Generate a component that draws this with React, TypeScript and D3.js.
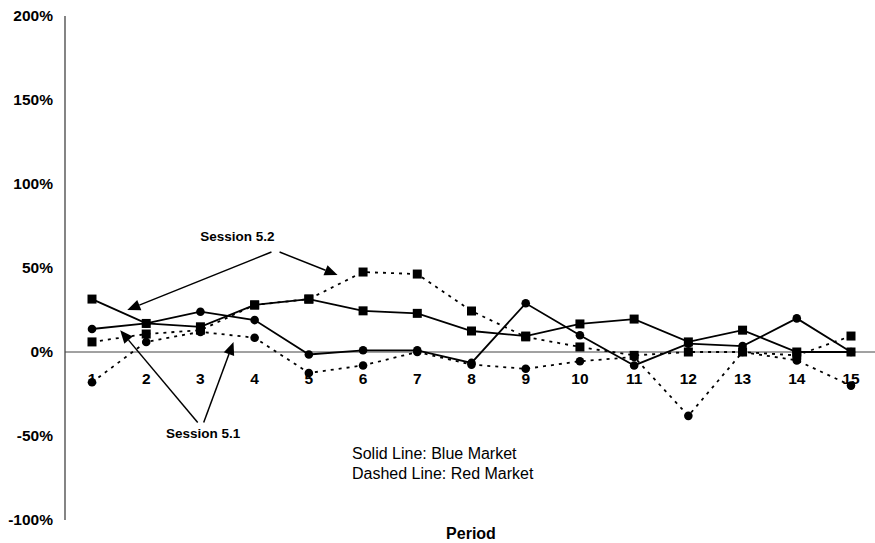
import React from "react";
import * as d3 from "d3";

const periods = [1, 2, 3, 4, 5, 6, 7, 8, 9, 10, 11, 12, 13, 14, 15];
const yTicks = [-100, -50, 0, 50, 100, 150, 200];

// Session 5.2 (squares), Session 5.1 (circles); solid = Blue, dashed = Red
const blue52 = [31.5, 17, 15, 28, 31.5, 24.5, 23, 12.5, 9.5, 16.7, 19.6, 6, 13, 0, 0];
const blue51 = [13.7, 17, 24, 19, -1.5, 1, 1, -6.5, 29, 10, -8, 5, 3.5, 20, 0];
const red52 = [6, 10.7, 13, 28, 31.5, 47.6, 46.4, 24.4, 9, 3, -2, 0, 0, -2, 9.5];
const red51 = [-18, 6, 12, 8.5, -12.5, -8, 0, -7.5, -10, -5.5, -3, -38, 0, -5, -20];

// annotation anchors in data coordinates [period, value]
const ann52Text: [number, number] = [3.68, 69];
const ann52Arrows: [number, number, number, number][] = [
  [4.31, 59.5, 1.65, 25],
  [4.46, 59.5, 5.53, 45.8],
];
const ann51Text: [number, number] = [3.05, -48.5];
const ann51Arrows: [number, number, number, number][] = [
  [2.95, -42, 1.52, 13],
  [3.06, -42, 3.61, 6],
];

const W = 875;
const H = 543;

export default function App() {
  const x = d3.scaleLinear().domain([1, 15]).range([92, 851]);
  const y = d3.scaleLinear().domain([-100, 200]).range([520, 16]);
  const line = d3
    .line<number>()
    .x((_, i) => x(periods[i]))
    .y((d) => y(d));

  const font = "Arial, 'Liberation Sans', Helvetica, sans-serif";

  const series = [
    { data: blue52, dashed: false, marker: "square" },
    { data: blue51, dashed: false, marker: "circle" },
    { data: red52, dashed: true, marker: "square" },
    { data: red51, dashed: true, marker: "circle" },
  ];

  const axisX = 65;

  const arrow = (a: [number, number, number, number], k: number) => {
    const x1 = x(a[0]);
    const y1 = y(a[1]);
    const x2 = x(a[2]);
    const y2 = y(a[3]);
    const ang = Math.atan2(y2 - y1, x2 - x1);
    const L = 13;
    const Wd = 5.5;
    const bx = x2 - L * Math.cos(ang);
    const by = y2 - L * Math.sin(ang);
    const px = -Math.sin(ang) * Wd;
    const py = Math.cos(ang) * Wd;
    return (
      <g key={k}>
        <line x1={x1} y1={y1} x2={bx} y2={by} stroke="#000" strokeWidth={1.5} />
        <path
          d={`M${x2},${y2}L${bx + px},${by + py}L${bx - px},${by - py}Z`}
          fill="#000"
        />
      </g>
    );
  };

  return (
    <svg
      width={W}
      height={H}
      style={{ position: "absolute", left: 0, top: 0, background: "#fff" }}
      fontFamily={font}
    >
      <rect width={W} height={H} fill="#fff" />
      {/* y axis */}
      <line x1={axisX} y1={y(200)} x2={axisX} y2={y(-100)} stroke="#333" strokeWidth={1.2} />
      {/* zero line */}
      <line x1={axisX} y1={y(0)} x2={W} y2={y(0)} stroke="#444" strokeWidth={1} />
      {yTicks.map((t) => (
        <text
          key={t}
          x={53}
          y={y(t)}
          dy="0.35em"
          textAnchor="end"
          fontSize={15.5}
          fontWeight="bold"
        >
          {t}%
        </text>
      ))}
      {periods.map((p) => (
        <text
          key={p}
          x={x(p)}
          y={y(0) + 32}
          textAnchor="middle"
          fontSize={15.5}
          fontWeight="bold"
        >
          {p}
        </text>
      ))}
      {series.map((s, si) => (
        <g key={si}>
          <path
            d={line(s.data) || ""}
            fill="none"
            stroke="#000"
            strokeWidth={1.8}
            strokeDasharray={s.dashed ? "3,5" : undefined}
          />
          {s.data.map((v, i) =>
            s.marker === "square" ? (
              <rect
                key={i}
                x={x(periods[i]) - 4.5}
                y={y(v) - 4.5}
                width={9}
                height={9}
                fill="#000"
              />
            ) : (
              <circle key={i} cx={x(periods[i])} cy={y(v)} r={4.3} fill="#000" />
            )
          )}
        </g>
      ))}
      {/* annotations */}
      <text
        x={x(ann52Text[0])}
        y={y(ann52Text[1])}
        textAnchor="middle"
        dy="0.35em"
        fontSize={13.5}
        fontWeight="bold"
      >
        Session 5.2
      </text>
      {ann52Arrows.map((a, i) => arrow(a, i))}
      <text
        x={x(ann51Text[0])}
        y={y(ann51Text[1])}
        textAnchor="middle"
        dy="0.35em"
        fontSize={13.5}
        fontWeight="bold"
      >
        Session 5.1
      </text>
      {ann51Arrows.map((a, i) => arrow(a, 10 + i))}
      <text x={352} y={459} fontSize={16}>
        Solid Line: Blue Market
      </text>
      <text x={352} y={479} fontSize={16}>
        Dashed Line: Red Market
      </text>
      <text x={471} y={539} textAnchor="middle" fontSize={16} fontWeight="bold">
        Period
      </text>
    </svg>
  );
}
